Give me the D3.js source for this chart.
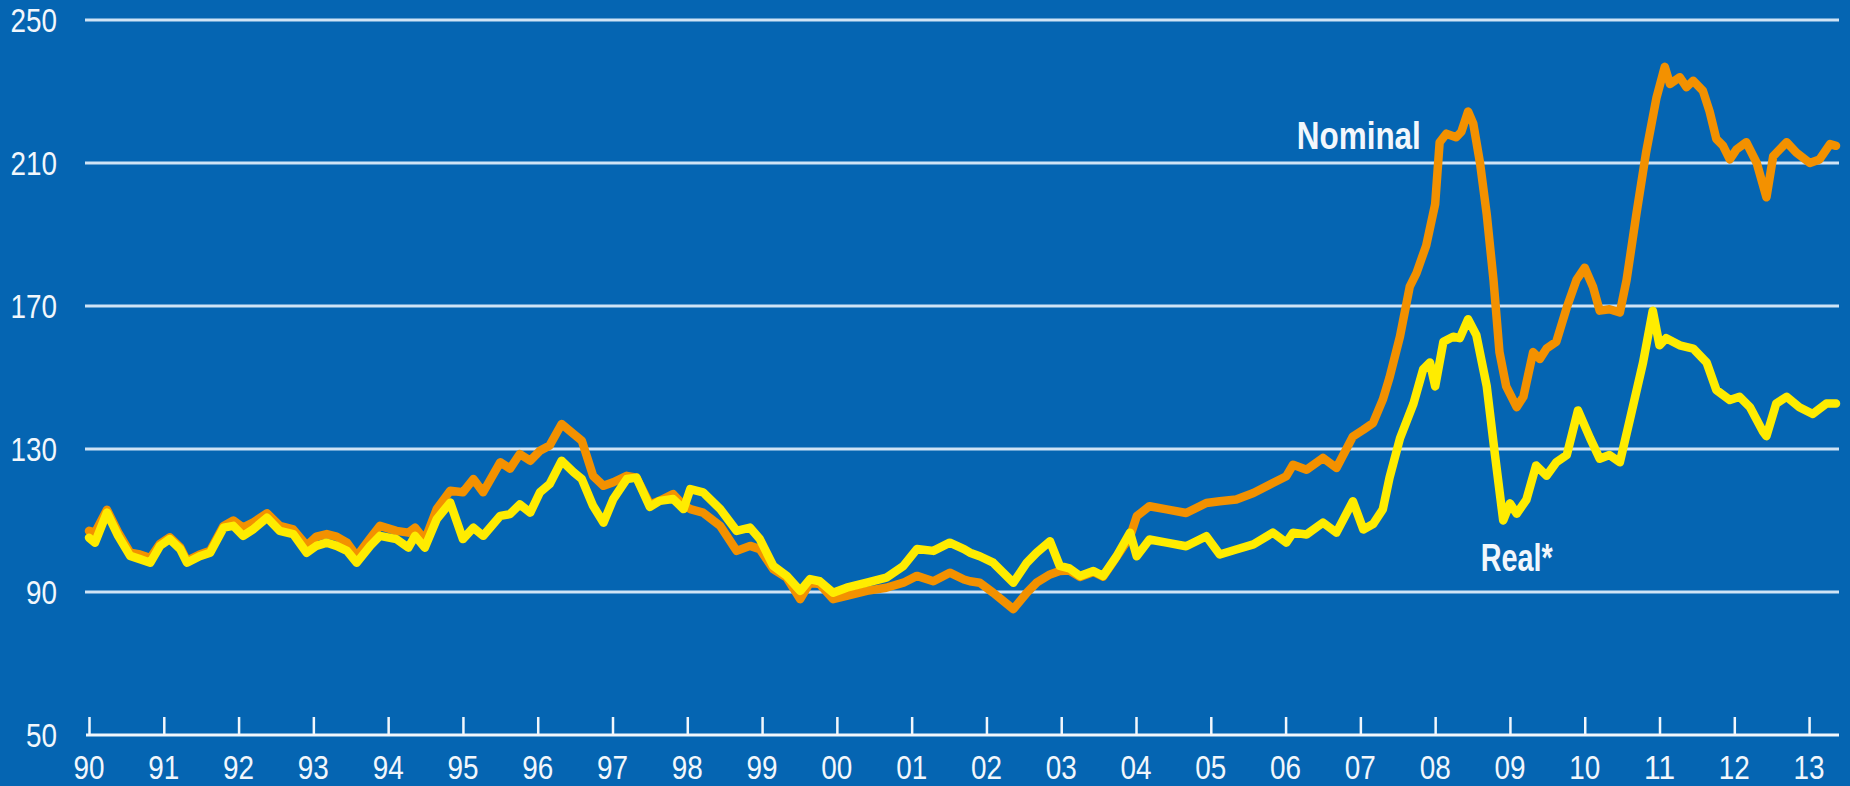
<!DOCTYPE html>
<html>
<head>
<meta charset="utf-8">
<script src="https://cdn.jsdelivr.net/npm/d3@7"></script>
<style>
  html, body { margin: 0; padding: 0; background: #0565b2; overflow: hidden; }
  svg { display: block; }
  text { font-family: "Liberation Sans", Arial, sans-serif; }
</style>
</head>
<body>
<svg id="chart" width="1850" height="786"></svg>
<script>
// ---- Data ----
const yTicks = [50, 90, 130, 170, 210, 250];
const xTickYears = [1990,1991,1992,1993,1994,1995,1996,1997,1998,1999,2000,2001,2002,2003,2004,2005,2006,2007,2008,2009,2010,2011,2012,2013];
const xTickLabels = ["90","91","92","93","94","95","96","97","98","99","00","01","02","03","04","05","06","07","08","09","10","11","12","13"];

const nominalDates = [1990.00,1990.08,1990.24,1990.39,1990.55,1990.68,1990.82,1990.95,1991.08,1991.22,1991.31,1991.48,1991.62,1991.80,1991.93,1992.06,1992.20,1992.38,1992.55,1992.73,1992.91,1993.04,1993.18,1993.31,1993.45,1993.58,1993.76,1993.89,1994.11,1994.27,1994.36,1994.49,1994.65,1994.83,1995.00,1995.14,1995.27,1995.50,1995.63,1995.76,1995.90,1996.03,1996.16,1996.32,1996.48,1996.59,1996.74,1996.88,1997.01,1997.19,1997.32,1997.50,1997.63,1997.81,1997.95,1998.04,1998.21,1998.44,1998.66,1998.84,1998.97,1999.15,1999.33,1999.51,1999.64,1999.77,1999.95,2000.13,2000.40,2000.66,2000.89,2001.07,2001.29,2001.51,2001.70,2001.78,2001.91,2002.09,2002.36,2002.54,2002.67,2002.85,2002.98,2003.11,2003.25,2003.43,2003.56,2003.74,2003.92,2004.01,2004.18,2004.41,2004.67,2004.94,2005.12,2005.34,2005.57,2005.83,2006.01,2006.10,2006.28,2006.50,2006.68,2006.90,2007.04,2007.17,2007.30,2007.39,2007.53,2007.66,2007.75,2007.88,2008.00,2008.06,2008.15,2008.28,2008.35,2008.44,2008.51,2008.60,2008.69,2008.78,2008.86,2008.95,2009.09,2009.18,2009.31,2009.40,2009.49,2009.62,2009.76,2009.89,2010.00,2010.11,2010.20,2010.33,2010.47,2010.56,2010.69,2010.82,2010.96,2011.07,2011.14,2011.27,2011.36,2011.45,2011.58,2011.67,2011.76,2011.85,2011.94,2012.03,2012.16,2012.30,2012.43,2012.52,2012.70,2012.83,2013.01,2013.14,2013.28,2013.36];
const nominalValues = [107.1,106.6,113.0,106.7,101.0,100.5,99.5,103.5,105.3,102.5,98.7,100.5,101.5,108.5,110.0,108.0,109.5,112.0,108.5,107.5,103.0,105.5,106.2,105.5,103.8,100.0,105.0,108.5,107.1,106.6,108.0,104.5,113.2,118.3,117.9,121.6,117.9,126.3,124.5,128.6,126.7,129.5,131.0,137.0,134.2,132.3,122.5,119.7,120.7,122.5,122.0,114.5,115.5,117.4,114.2,113.2,112.2,108.5,101.5,102.9,102.0,96.4,94.0,88.0,92.6,92.2,88.0,88.9,90.3,91.2,92.6,94.5,93.0,95.4,93.5,93.0,92.6,89.8,85.2,89.8,92.6,94.9,95.9,96.0,94.2,95.6,94.3,99.8,105.5,111.2,114.0,113.1,112.1,114.9,115.4,115.9,117.7,120.5,122.4,125.6,124.2,127.5,124.7,133.5,135.4,137.3,143.8,150.0,161.5,175.4,179.2,186.9,198.5,215.8,218.2,217.2,218.7,224.4,221.0,210.0,195.6,177.3,157.1,147.5,141.7,144.6,157.1,155.2,158.1,160.0,169.6,177.3,180.7,175.4,168.7,169.1,168.2,177.3,195.6,212.9,228.3,236.9,232.1,234.0,231.2,233.0,230.2,224.4,216.7,214.8,211.0,213.8,215.8,210.0,200.4,211.9,215.8,212.9,210.0,211.0,215.3,214.8];

const realDates = [1990.00,1990.08,1990.24,1990.39,1990.55,1990.68,1990.82,1990.95,1991.08,1991.22,1991.31,1991.48,1991.62,1991.80,1991.93,1992.06,1992.20,1992.38,1992.55,1992.73,1992.91,1993.04,1993.18,1993.31,1993.45,1993.58,1993.76,1993.89,1994.11,1994.27,1994.36,1994.49,1994.65,1994.83,1995.00,1995.14,1995.27,1995.50,1995.63,1995.76,1995.90,1996.03,1996.16,1996.32,1996.48,1996.59,1996.74,1996.88,1997.01,1997.19,1997.32,1997.50,1997.63,1997.81,1997.95,1998.04,1998.21,1998.44,1998.66,1998.84,1998.97,1999.15,1999.33,1999.51,1999.64,1999.77,1999.95,2000.13,2000.40,2000.66,2000.89,2001.07,2001.29,2001.51,2001.70,2001.78,2001.91,2002.09,2002.36,2002.54,2002.67,2002.85,2002.98,2003.11,2003.25,2003.43,2003.56,2003.74,2003.92,2004.01,2004.18,2004.41,2004.67,2004.94,2005.12,2005.34,2005.57,2005.83,2006.01,2006.10,2006.28,2006.50,2006.68,2006.90,2007.04,2007.17,2007.30,2007.39,2007.53,2007.71,2007.84,2007.93,2008.00,2008.11,2008.24,2008.33,2008.44,2008.55,2008.69,2008.80,2008.91,2009.00,2009.09,2009.22,2009.35,2009.49,2009.62,2009.76,2009.91,2010.07,2010.20,2010.33,2010.47,2010.60,2010.78,2010.91,2011.00,2011.09,2011.27,2011.45,2011.63,2011.76,2011.94,2012.07,2012.21,2012.38,2012.43,2012.56,2012.70,2012.87,2013.05,2013.23,2013.36];
const realValues = [105.2,103.8,112.2,105.7,100.1,99.2,98.2,102.9,104.8,102.0,98.2,100.0,101.0,108.0,108.5,105.7,107.6,110.8,107.1,106.2,101.0,102.9,103.8,102.9,101.5,98.2,102.9,105.7,104.8,102.4,105.7,102.4,110.4,115.0,104.8,108.0,105.7,111.3,111.8,114.5,112.2,117.9,120.2,126.7,123.5,121.6,114.1,109.4,116.0,121.6,122.0,113.8,115.5,116.0,113.2,118.8,117.9,113.2,107.1,108.0,104.8,97.3,94.5,90.3,93.6,93.0,89.8,91.2,92.6,94.0,97.3,102.0,101.5,103.8,102.0,101.0,100.0,98.2,92.6,98.2,101.0,104.2,97.3,96.6,94.5,95.9,94.5,100.0,106.6,100.0,104.7,103.8,102.8,105.6,100.5,101.9,103.3,106.6,103.8,106.6,106.1,109.4,106.6,115.4,107.5,109.0,113.1,122.0,133.0,142.7,152.3,154.2,147.5,160.0,161.4,161.0,166.3,161.9,147.5,128.3,110.0,114.8,111.9,115.8,125.4,122.5,126.3,128.3,140.8,133.1,127.3,128.3,126.3,137.9,154.2,168.7,159.0,161.0,159.0,158.1,154.2,146.5,143.7,144.6,141.7,135.0,133.6,142.7,144.6,141.7,139.8,142.7,142.7];

const seriesLabels = [
  { name: "Nominal", year: 2006.15, value: 213.8 },
  { name: "Real*",   year: 2008.61, value: 96.0 }
];

// ---- Layout ----
const svg = d3.select("#chart");
const W = 1850, H = 786;
const C = {
  bg: "#0565b2",
  grid: "#cfe3f5",
  axis: "#f2f7fc",
  text: "#f2f7fc",
  nominal: "#f39100",
  real: "#ffec00"
};

// narrow, condensed look of the original lettering
const digitW = 15.5;
const labelW = { "Nominal": 124, "Real*": 72 };

svg.append("rect").attr("width", W).attr("height", H).attr("fill", C.bg);

const x = d3.scaleLinear().domain([1990, 2013.4]).range([89, 1839]);
const y = d3.scaleLinear().domain([50, 250]).range([735, 20]);

// Horizontal gridlines (not at 50, where the axis is)
svg.append("g")
  .selectAll("line")
  .data(yTicks.filter(d => d !== 50))
  .join("line")
  .attr("x1", 85).attr("x2", x.range()[1])
  .attr("y1", d => y(d)).attr("y2", d => y(d))
  .attr("stroke", C.grid).attr("stroke-width", 3);

// Y labels
svg.append("g")
  .selectAll("text")
  .data(yTicks)
  .join("text")
  .attr("x", 57)
  .attr("y", d => y(d))
  .attr("dy", "0.35em")
  .attr("text-anchor", "end")
  .attr("fill", C.text)
  .attr("font-size", 34)
  .attr("textLength", d => String(d).length * digitW)
  .attr("lengthAdjust", "spacingAndGlyphs")
  .text(d => d);

// X axis
const xAxis = d3.axisTop(x)
  .tickValues(xTickYears)
  .tickFormat(() => "")
  .tickSize(18)
  .tickSizeOuter(0);
const gx = svg.append("g").attr("transform", `translate(0,${y(50)})`).call(xAxis);
gx.select(".domain").attr("stroke", C.axis).attr("stroke-width", 3)
  .attr("d", `M86,0H${x.range()[1]}`);
gx.selectAll(".tick line").attr("stroke", C.axis).attr("stroke-width", 2.5);

svg.append("g")
  .selectAll("text")
  .data(xTickYears)
  .join("text")
  .attr("x", d => x(d))
  .attr("y", 779)
  .attr("text-anchor", "middle")
  .attr("fill", C.text)
  .attr("font-size", 33)
  .attr("textLength", (d, i) => xTickLabels[i].length * digitW)
  .attr("lengthAdjust", "spacingAndGlyphs")
  .text((d, i) => xTickLabels[i]);

// Lines
const line = d3.line()
  .x(d => x(d[0]))
  .y(d => y(d[1]))
  .curve(d3.curveLinear);

const nominal = nominalDates.map((d, i) => [d, nominalValues[i]]);
const real = realDates.map((d, i) => [d, realValues[i]]);

svg.append("path")
  .datum(nominal)
  .attr("d", line)
  .attr("fill", "none")
  .attr("stroke", C.nominal)
  .attr("stroke-width", 8.5)
  .attr("stroke-linejoin", "round")
  .attr("stroke-linecap", "round");

svg.append("path")
  .datum(real)
  .attr("d", line)
  .attr("fill", "none")
  .attr("stroke", C.real)
  .attr("stroke-width", 8.5)
  .attr("stroke-linejoin", "round")
  .attr("stroke-linecap", "round");

// Series labels
svg.append("g")
  .selectAll("text")
  .data(seriesLabels)
  .join("text")
  .attr("x", d => x(d.year))
  .attr("y", d => y(d.value))
  .attr("fill", C.text)
  .attr("font-size", 38)
  .attr("font-weight", "bold")
  .attr("textLength", d => labelW[d.name])
  .attr("lengthAdjust", "spacingAndGlyphs")
  .text(d => d.name);
</script>
</body>
</html>
